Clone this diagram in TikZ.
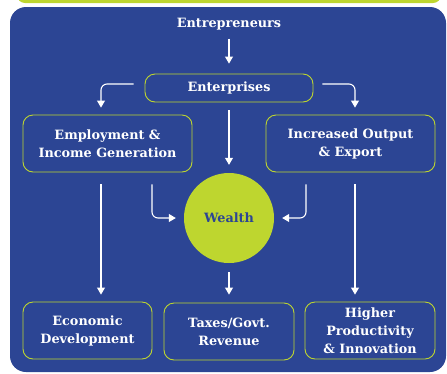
\documentclass[tikz,border=0pt]{standalone}
\usepackage{fontspec}
\setmainfont{DejaVu Serif}
\usepackage{xcolor}
\usepackage{tikz}
\usetikzlibrary{arrows.meta, positioning}

\definecolor{grundblau}{HTML}{2C4594}
\definecolor{limette}{HTML}{BED62F}

\tikzset{
	kasten/.style={
		draw=limette,
		line width=0.9pt,
		rounded corners=10pt,
		align=center,
		text=white,
		inner sep=1pt,
		font=\bfseries\fontsize{12.8}{18}\selectfont
	},
	pfeil/.style={
		draw=white,
		line width=1.1pt,
		-{Triangle[width=8pt,length=7pt]}
	}
}

\begin{document}
\begin{tikzpicture}[x=1pt, y=-1pt]
	\useasboundingbox (0,0) rectangle (447,373);
	% Leiste oben
	\fill[
		limette,
		rounded corners=8pt
	] (17,-20) rectangle (441,3);
	% Hintergrund
	\fill[
		grundblau,
		rounded corners=16pt
	] (10,7) rectangle (446,372);

	% Begriffe
	\node[
		text=white,
		font=\bfseries\fontsize{12.8}{18}\selectfont
	] (entrepreneurs) at (229,24) {Entrepreneurs};
	\node[
		kasten,
		minimum width=168pt,
		minimum height=28pt
	] (enterprises) at (229,88) {Enterprises};
	\node[
		kasten,
		minimum width=169pt,
		minimum height=57pt
	] (employment) at (107.5,143.5) {Employment \&\\Income Generation};
	\node[
		kasten,
		minimum width=169pt,
		minimum height=57pt
	] (output) at (350.5,143.5) {Increased Output\\\& Export};
	\node[
		circle,
		fill=limette,
		minimum size=90pt,
		text=grundblau,
		font=\bfseries\fontsize{12.8}{18}\selectfont
	] (wealth) at (229,218) {Wealth};
	\node[
		kasten,
		minimum width=129pt,
		minimum height=57pt
	] (economic) at (87.5,330.5) {Economic\\Development};
	\node[
		kasten,
		minimum width=130pt,
		minimum height=57pt
	] (taxes) at (229,331.5) {Taxes/Govt.\\Revenue};
	\node[
		kasten,
		minimum width=130pt,
		minimum height=57pt
	] (higher) at (370,330.5) {Higher\\Productivity\\\& Innovation};

	% Spalten der Pfeile
	\coordinate (spalteL) at (101,0);
	\coordinate (spalteR) at (355,0);
	\coordinate (innenL) at (152,0);
	\coordinate (innenR) at (306,0);

	% Pfeile
	\draw[
		pfeil,
		shorten <=5pt,
		shorten >=10pt
	] (entrepreneurs) -- (enterprises);
	\draw[
		pfeil,
		rounded corners=6pt,
		shorten <=11pt,
		shorten >=7pt
	] ([yshift=4pt]enterprises.west) -| (spalteL |- employment.north);
	\draw[
		pfeil,
		rounded corners=6pt,
		shorten <=9pt,
		shorten >=7pt
	] ([yshift=4pt]enterprises.east) -| (spalteR |- output.north);
	\draw[
		pfeil,
		shorten <=8pt,
		shorten >=8pt
	] (enterprises) -- (wealth);
	\draw[
		pfeil,
		rounded corners=6pt,
		shorten <=12pt,
		shorten >=8pt
	] (innenL |- employment.south) |- (wealth.west);
	\draw[
		pfeil,
		rounded corners=6pt,
		shorten <=12pt,
		shorten >=8pt
	] (innenR |- output.south) |- (wealth.east);
	\draw[
		pfeil,
		shorten <=12pt,
		shorten >=7pt
	] (spalteL |- employment.south) -- (spalteL |- economic.north);
	\draw[
		pfeil,
		shorten <=12pt,
		shorten >=7pt
	] (spalteR |- output.south) -- (spalteR |- higher.north);
	\draw[
		pfeil,
		shorten <=9pt,
		shorten >=8pt
	] (wealth) -- (taxes);
\end{tikzpicture}
\end{document}
